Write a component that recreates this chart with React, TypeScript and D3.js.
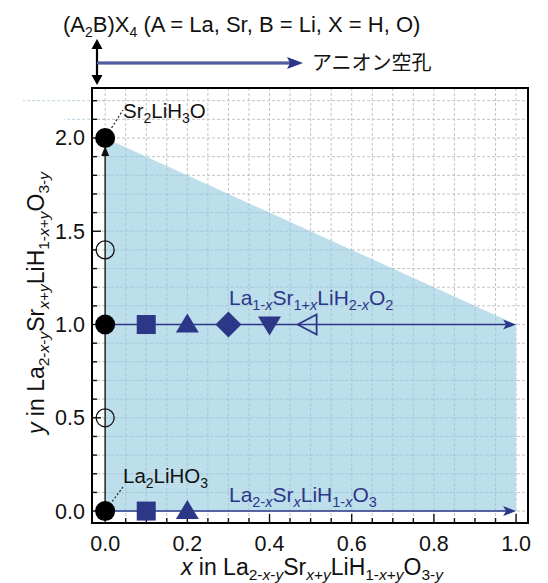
import React from "react";
import * as d3 from "d3";

const W = 548, H = 583;
const NAVY = "#2d3787";
const FILL = "#b7dbe9";

// data
const xTickLabels = [0, 0.2, 0.4, 0.6, 0.8, 1.0];
const yTickLabels = [0, 0.5, 1.0, 1.5, 2.0];
const regionPoly: [number, number][] = [[0, 0], [0, 2], [1, 1], [1, 0]];
const blackFilled: [number, number][] = [[0, 0], [0, 1], [0, 2]];
const blackOpen: [number, number][] = [[0, 0.5], [0, 1.4]];
const row1Markers: { x: number; y: number; shape: string }[] = [
  { x: 0.1, y: 1, shape: "square" },
  { x: 0.2, y: 1, shape: "triUp" },
  { x: 0.3, y: 1, shape: "diamond" },
  { x: 0.4, y: 1, shape: "triDown" },
  { x: 0.5, y: 1, shape: "triLeftOpen" },
];
const row0Markers: { x: number; y: number; shape: string }[] = [
  { x: 0.1, y: 0, shape: "square" },
  { x: 0.2, y: 0, shape: "triUp" },
];

const FONT = "'Liberation Sans', Arial, Helvetica, sans-serif";

type Part = { t: string; sub?: boolean; it?: boolean };

function Formula({ parts, size, subSize, shift, ...rest }: any) {
  let inSub = false;
  const spans = (parts as Part[]).map((p, i) => {
    let dy = 0;
    if (p.sub && !inSub) { dy = shift; inSub = true; }
    else if (!p.sub && inSub) { dy = -shift; inSub = false; }
    return (
      <tspan key={i} dy={dy || undefined} fontSize={p.sub ? subSize : size} fontStyle={p.it ? "italic" : "normal"}>
        {p.t}
      </tspan>
    );
  });
  return <text fontFamily={FONT} fontSize={size} {...rest}>{spans}</text>;
}

const axisParts = (v: string): Part[] => [
  { t: v, it: true }, { t: " in La" }, { t: "2-", sub: true }, { t: "x", sub: true, it: true }, { t: "-", sub: true },
  { t: "y", sub: true, it: true }, { t: "Sr" }, { t: "x", sub: true, it: true }, { t: "+", sub: true }, { t: "y", sub: true, it: true },
  { t: "LiH" }, { t: "1-", sub: true }, { t: "x", sub: true, it: true }, { t: "+", sub: true }, { t: "y", sub: true, it: true },
  { t: "O" }, { t: "3-", sub: true }, { t: "y", sub: true, it: true },
];

export default function App() {
  const x = d3.scaleLinear().domain([-0.032, 1.029]).range([92, 528]);
  const y = d3.scaleLinear().domain([-0.064, 2.268]).range([523, 88]);
  const X0 = 92, X1 = 528, YB = 523, YT = 88;

  const gridX = d3.range(0, 1.0001, 0.05);
  const gridY = d3.range(0, 2.2001, 0.1);

  const area = d3.line<[number, number]>().x(d => x(d[0])).y(d => y(d[1]));

  const marker = (m: { x: number; y: number; shape: string }, i: number) => {
    const cx = x(m.x), cy = y(m.y);
    if (m.shape === "square") return <rect key={i} x={cx - 9.5} y={cy - 9.5} width={19} height={19} fill={NAVY} />;
    if (m.shape === "triUp") return <path key={i} d={`M${cx},${cy - 11}L${cx + 11.5},${cy + 8}L${cx - 11.5},${cy + 8}Z`} fill={NAVY} />;
    if (m.shape === "triDown") return <path key={i} d={`M${cx},${cy + 11}L${cx + 11.5},${cy - 8}L${cx - 11.5},${cy - 8}Z`} fill={NAVY} />;
    if (m.shape === "diamond") return <path key={i} d={`M${cx},${cy - 13}L${cx + 13},${cy}L${cx},${cy + 13}L${cx - 13},${cy}Z`} fill={NAVY} />;
    if (m.shape === "triLeftOpen") return <path key={i} d={`M${cx - 13},${cy}L${cx + 6},${cy - 10}L${cx + 6},${cy + 10}Z`} fill="none" stroke={NAVY} strokeWidth={1.8} />;
    return null;
  };

  return (
    <svg width={W} height={H} style={{ position: "absolute", left: 0, top: 0, background: "#fff" }}>
      {/* grid */}
      {gridX.map((v, i) => <line key={"gx" + i} x1={x(v)} x2={x(v)} y1={YT} y2={YB} stroke="#c4c4c4" strokeWidth={1} strokeDasharray="3,2" />)}
      {gridY.map((v, i) => <line key={"gy" + i} x1={X0} x2={X1} y1={y(v)} y2={y(v)} stroke="#c4c4c4" strokeWidth={1} strokeDasharray="3,2" />)}
      {/* region */}
      <path d={area(regionPoly) + "Z"} fill={FILL} opacity={0.92} />
      {gridX.filter(v => v > 0 && v < 1).map((v, i) => <line key={"gx2" + i} x1={x(v)} x2={x(v)} y1={y(0)} y2={y(2 - v)} stroke="#9fc3d4" strokeWidth={1} strokeDasharray="3,2" opacity={0.7} />)}
      {gridY.filter(v => v > 0).map((v, i) => <line key={"gy2" + i} x1={x(0)} x2={x(Math.min(1, 2 - v))} y1={y(v)} y2={y(v)} stroke="#9fc3d4" strokeWidth={1} strokeDasharray="3,2" opacity={0.7} />)}
      {/* frame */}
      <path d={`M${X0},${YT}H${X1}V${YB}H${X0}Z`} fill="none" stroke="#000000" strokeWidth={2} />
      {/* ticks */}
      {gridX.map((v, i) => {
        const major = Math.abs(v / 0.2 - Math.round(v / 0.2)) < 1e-6;
        return <line key={"tx" + i} x1={x(v)} x2={x(v)} y1={YB} y2={YB - (major ? 9 : 5)} stroke="#111111" strokeWidth={1.4} />;
      })}
      {gridY.map((v, i) => {
        const major = Math.abs(v / 0.5 - Math.round(v / 0.5)) < 1e-6;
        return <line key={"ty" + i} x1={X0} x2={X0 + (major ? 9 : 5)} y1={y(v)} y2={y(v)} stroke="#111111" strokeWidth={1.4} />;
      })}
      {/* tick labels */}
      {xTickLabels.map((v, i) => <text key={"xl" + i} x={x(v)} y={551} textAnchor="middle" fontFamily={FONT} fontSize={21.5} fill="#111">{d3.format(".1f")(v)}</text>)}
      {yTickLabels.map((v, i) => <text key={"yl" + i} x={85} y={y(v) + 7.5} textAnchor="end" fontFamily={FONT} fontSize={21.5} fill="#111">{d3.format(".1f")(v)}</text>)}
      {/* vertical line at x=0 */}
      <line x1={x(0)} x2={x(0)} y1={y(0)} y2={y(2) + 16} stroke="#333" strokeWidth={1.6} />
      <path d={`M${x(0)},${y(2) + 8}L${x(0) + 4},${y(2) + 18}L${x(0) - 4},${y(2) + 18}Z`} fill="#111" />
      {/* horizontal arrows */}
      {[0, 1].map(v => (
        <g key={"h" + v}>
          <line x1={x(0)} x2={x(1) - 8} y1={y(v)} y2={y(v)} stroke={NAVY} strokeWidth={1.6} />
          <path d={`M${x(1)},${y(v)}L${x(1) - 13},${y(v) - 5}L${x(1) - 10},${y(v)}L${x(1) - 13},${y(v) + 5}Z`} fill={NAVY} />
        </g>
      ))}
      {/* leaders */}
      <line x1={x(0)} y1={y(2)} x2={123} y2={110} stroke="#222" strokeWidth={1.2} strokeDasharray="2,2" />
      <line x1={x(0)} y1={y(0)} x2={123} y2={487} stroke="#222" strokeWidth={1.2} strokeDasharray="2,2" />
      {/* markers */}
      {row1Markers.map(marker)}
      {row0Markers.map((m, i) => marker(m, i + 10))}
      {blackOpen.map((p, i) => <circle key={"o" + i} cx={x(p[0])} cy={y(p[1])} r={9} fill="none" stroke="#111" strokeWidth={1.3} />)}
      {blackFilled.map((p, i) => <circle key={"f" + i} cx={x(p[0])} cy={y(p[1])} r={10} fill="#000" />)}
      {/* labels */}
      <Formula x={123} y={118} size={20.5} subSize={14} shift={5} fill="#111"
        parts={[{ t: "Sr" }, { t: "2", sub: true }, { t: "LiH" }, { t: "3", sub: true }, { t: "O" }]} />
      <Formula x={123} y={483} size={20.5} subSize={14} shift={5} fill="#111"
        parts={[{ t: "La" }, { t: "2", sub: true }, { t: "LiHO" }, { t: "3", sub: true }]} />
      <Formula x={229} y={305} size={21} subSize={14.5} shift={5} fill={NAVY}
        parts={[{ t: "La" }, { t: "1-", sub: true }, { t: "x", sub: true, it: true }, { t: "Sr" }, { t: "1+", sub: true }, { t: "x", sub: true, it: true }, { t: "LiH" }, { t: "2-", sub: true }, { t: "x", sub: true, it: true }, { t: "O" }, { t: "2", sub: true }]} />
      <Formula x={229} y={502} size={21} subSize={14.5} shift={5} fill={NAVY}
        parts={[{ t: "La" }, { t: "2-", sub: true }, { t: "x", sub: true, it: true }, { t: "Sr" }, { t: "x", sub: true, it: true }, { t: "LiH" }, { t: "1-", sub: true }, { t: "x", sub: true, it: true }, { t: "O" }, { t: "3", sub: true }]} />
      {/* top annotation */}
      <Formula x={63} y={32} size={22} subSize={14} shift={5} fill="#111"
        parts={[{ t: "(A" }, { t: "2", sub: true }, { t: "B)X" }, { t: "4", sub: true }, { t: " (A = La, Sr, B = Li, X = H, O)" }]} />
      <line x1={97} x2={97} y1={45} y2={80} stroke="#000" strokeWidth={2.2} />
      <path d={`M97,39L102.5,49L91.5,49Z`} fill="#000" />
      <path d={`M97,85L102.5,75L91.5,75Z`} fill="#000" />
      <line x1={97} x2={292} y1={63} y2={63} stroke={NAVY} strokeWidth={3} />
      <line x1={97} x2={292} y1={63} y2={63} stroke="#8d93c4" strokeWidth={0.8} />
      <path d={`M303,63L287,57L290,63L287,69Z`} fill={NAVY} />
      <text x={312} y={70} fontFamily="'Noto Sans CJK JP', sans-serif" fontSize={20} fill="#111">アニオン空孔</text>
      {/* axis titles */}
      <Formula x={312} y={575} textAnchor="middle" size={23} subSize={15.5} shift={4.5} fill="#111" parts={axisParts("x")} />
      <Formula transform={`translate(44,303) rotate(-90)`} x={0} y={0} textAnchor="middle" size={23} subSize={15.5} shift={4.5} fill="#111" parts={axisParts("y")} />
    </svg>
  );
}
